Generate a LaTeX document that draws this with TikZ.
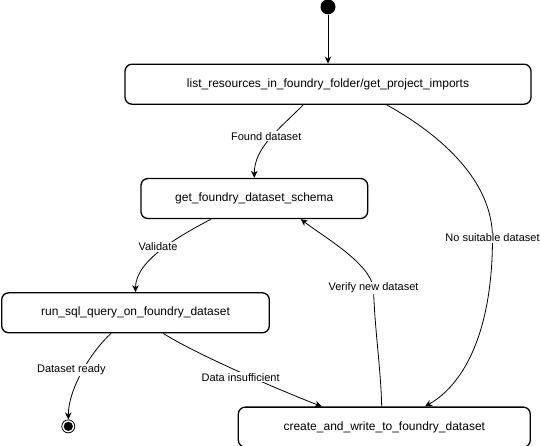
\documentclass[tikz,border=0pt]{standalone}
\usepackage{fontspec}
\setmainfont{Liberation Sans}
\usetikzlibrary{positioning}
\usetikzlibrary{arrows.meta}
\tikzstyle{action} = [rectangle, rounded corners=7pt, draw=black, line width=1.3pt,
minimum height=40pt, inner sep=2pt, font=\fontsize{12}{12}\selectfont, node distance=73pt]
\tikzstyle{startdot} = [circle, fill=black, inner sep=0pt, minimum size=15pt]
\tikzstyle{enddot} = [circle, draw=black, line width=0.8pt, inner sep=0pt, minimum size=13pt,
path picture={\fill[black] (path picture bounding box.center) circle (4.6pt);}]
\tikzstyle{guard} = [fill=white, inner sep=1pt, font=\fontsize{11}{11}\selectfont]
\tikzstyle{flow} = [->, line width=0.8pt]
\tikzset{>={Stealth[length=7pt,width=6.5pt,inset=2.2pt]}}

\begin{document}
\begin{tikzpicture}[x=1pt, y=-1pt]
  \useasboundingbox (0,0) rectangle (541,445);
  \node[action, minimum width=406pt] (list) at (328,84.2) {list\_resources\_in\_foundry\_folder/get\_project\_imports};
  \node[action, minimum width=226.7pt, below=of list, xshift=-73.7pt] (schema) {get\_foundry\_dataset\_schema};
  \node[action, minimum width=267.6pt, below=of schema, xshift=-118.8pt] (query) {run\_sql\_query\_on\_foundry\_dataset};
  \node[action, minimum width=292pt, below=of query, xshift=248.8pt] (write) {create\_and\_write\_to\_foundry\_dataset};
  \node[startdot, above=49pt of list] (init) {};
  \node[enddot, below=86pt of query, xshift=-67.2pt] (done) {};

  % waypoints of the two long curves
  \coordinate (nsd) at (492.5,238);
  \coordinate (vnd) at (373.5,288);

  \draw[flow] (init) -- (init |- list.north);
  \draw[flow] ([xshift=-24.7pt]list.south) .. controls +(-25,25) and +(0,-30) .. (schema.north)
    node[guard, pos=0.45, xshift=-6pt] {Found dataset};
  \draw[flow] ([xshift=58.7pt]list.south) .. controls +(53.3,29.7) and +(0,-58) .. (nsd)
    node[guard] {No suitable dataset} .. controls +(0,92) and +(40,-22.7) .. ([xshift=40.7pt]write.north);
  \draw[flow] ([xshift=-43.3pt]schema.south) .. controls +(-30,16) and +(0,-32.3) .. (query.north)
    node[guard, pos=0.5, xshift=-4pt, yshift=3pt] {Validate};
  \draw[flow] ([xshift=-2.6pt]write.north) .. controls +(-1,-40) and +(1,40) .. (vnd)
    node[guard] {Verify new dataset} .. controls +(-4,-25) and +(25,19) .. ([xshift=46.4pt]schema.south);
  \draw[flow] ([xshift=-24.5pt]query.south) .. controls +(-20,18) and +(0,-30.3) .. (done.north)
    node[guard, pos=0.5, xshift=-10.8pt, yshift=2pt] {Dataset ready};
  \draw[flow] ([xshift=27.8pt]query.south) .. controls +(35,22) and +(-40,-15.5) .. ([xshift=-62.6pt]write.north)
    node[guard, pos=0.5, yshift=-5pt] {Data insufficient};
\end{tikzpicture}
\end{document}
